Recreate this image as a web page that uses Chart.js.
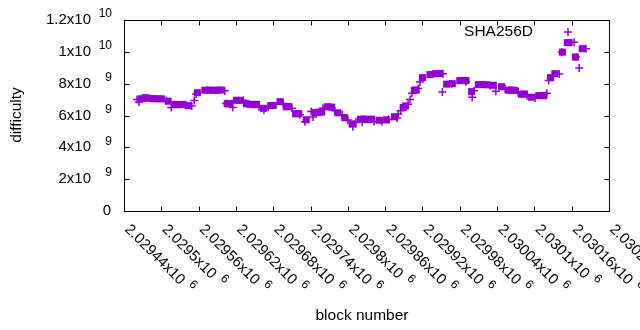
<!DOCTYPE html>
<html>
<head>
<meta charset="utf-8">
<script src="https://cdn.jsdelivr.net/npm/chart.js@4.4.0/dist/chart.umd.min.js"></script>
<style>
html,body{margin:0;padding:0;background:#fff;}
#wrap{width:640px;height:330px;}
</style>
</head>
<body>
<div id="wrap"><canvas id="myChart" width="640" height="330"></canvas></div>
<script>
// averaged difficulty (squares), block numbers and difficulty in units of 1e9
const avgBlocks = [2029468, 2029474, 2029480, 2029487, 2029493, 2029500, 2029511, 2029522, 2029528, 2029535,
  2029543, 2029558, 2029570, 2029577, 2029583, 2029590, 2029595, 2029606, 2029610, 2029621,
  2029626, 2029637, 2029643, 2029649, 2029653, 2029664, 2029676, 2029680, 2029691, 2029701,
  2029705, 2029716, 2029721, 2029733, 2029748, 2029752, 2029758, 2029767, 2029774, 2029784,
  2029795, 2029807, 2029820, 2029826, 2029832, 2029838, 2029850, 2029862, 2029875, 2029889,
  2029893, 2029907, 2029910, 2029920, 2029932, 2029941, 2029947, 2029959, 2029968, 2029980,
  2029985, 2029990, 2029999, 2030010, 2030017, 2030023, 2030034, 2030047, 2030058, 2030063,
  2030068, 2030079, 2030084, 2030095, 2030107, 2030111, 2030115, 2030126, 2030133, 2030145,
  2030153, 2030156, 2030166, 2030177];
const avgDiff = [7.05, 7.12, 7.08, 7.06, 7.05, 7.05, 6.9, 6.7, 6.68, 6.7,
  6.62, 7.43, 7.59, 7.6, 7.58, 7.59, 7.6, 6.74, 6.76, 6.96,
  6.95, 6.74, 6.7, 6.68, 6.7, 6.45, 6.62, 6.63, 6.87, 6.55,
  6.56, 6.11, 6.12, 5.73, 6.18, 6.2, 6.22, 6.55, 6.53, 6.17,
  5.86, 5.48, 5.76, 5.78, 5.74, 5.77, 5.70, 5.73, 5.92, 6.5,
  6.6, 7.59, 7.6, 8.38, 8.57, 8.63, 8.64, 7.97, 8.0, 8.19,
  8.2, 8.19, 7.5, 7.94, 7.95, 7.93, 7.9, 7.81, 7.59, 7.6,
  7.58, 7.34, 7.35, 7.15, 7.25, 7.26, 7.24, 8.38, 8.63, 9.98,
  10.58, 10.58, 9.67, 10.2];

// single block difficulty (plus marks)
const blockNums = [2029461, 2029464, 2029508, 2029516, 2029549, 2029553, 2029556, 2029602, 2029604, 2029615,
  2029632, 2029657, 2029665, 2029672, 2029696, 2029710, 2029723, 2029731, 2029741, 2029744,
  2029760, 2029779, 2029791, 2029800, 2029808, 2029813, 2029823, 2029842, 2029855, 2029865,
  2029879, 2029881, 2029885, 2029897, 2029900, 2029903, 2029913, 2029916, 2029953, 2029952,
  2029967, 2029990, 2030000, 2030003, 2030029, 2030038, 2030053, 2030074, 2030088, 2030101,
  2030120, 2030123, 2030140, 2030144, 2030164, 2030167, 2030172, 2030183];
const blockDiff = [7.0, 6.85, 6.95, 6.5, 6.6, 6.95, 7.35, 7.55, 6.75, 6.5,
  6.96, 6.55, 6.35, 6.55, 6.75, 6.45, 6.05, 5.6, 6.25, 5.9,
  6.45, 6.3, 6.05, 5.72, 5.3, 5.58, 5.58, 5.62, 5.6, 5.75,
  5.85, 6.1, 6.3, 6.7, 7.0, 7.4, 7.7, 8.1, 8.62, 7.47,
  8.0, 8.12, 7.15, 7.55, 7.88, 7.53, 7.7, 7.5, 7.25, 7.1,
  7.4, 8.2, 8.6, 9.98, 10.6, 9.67, 8.98, 10.2];

const xTickMain = ['2.02944x10', '2.0295x10', '2.02956x10', '2.02962x10', '2.02968x10', '2.02974x10', '2.0298x10',
  '2.02986x10', '2.02992x10', '2.02998x10', '2.03004x10', '2.0301x10', '2.03016x10', '2.03022x10'];
const xTickSup = '6';
const yTickMain = ['0', '2x10', '4x10', '6x10', '8x10', '1x10', '1.2x10'];
const yTickSup = ['', '9', '9', '9', '9', '10', '10'];

const PURPLE = '#9400d3';
const FONT = '"Liberation Sans", Arial, sans-serif';

// gnuplot style frame: border, inward ticks on all sides, labels with superscripts
const gnuplotFrame = {
    id: 'gnuplotFrame',
    afterDraw(chart) {
        const ctx = chart.ctx;
        const a = chart.chartArea;
        const xs = chart.scales.x, ys = chart.scales.y;
        const L = Math.round(a.left) + 0.5, R = Math.round(a.right) + 0.5;
        const T = Math.round(a.top) + 0.5, B = Math.round(a.bottom) + 0.5;
        ctx.save();
        ctx.strokeStyle = '#000';
        ctx.lineWidth = 1;
        ctx.strokeRect(L, T, R - L, B - T);
        ctx.beginPath();
        xs.ticks.forEach(t => {
            const px = Math.round(xs.getPixelForValue(t.value)) + 0.5;
            ctx.moveTo(px, B); ctx.lineTo(px, B - 5);
            ctx.moveTo(px, T); ctx.lineTo(px, T + 5);
        });
        ys.ticks.forEach(t => {
            const py = Math.round(ys.getPixelForValue(t.value)) + 0.5;
            ctx.moveTo(L, py); ctx.lineTo(L + 5, py);
            ctx.moveTo(R, py); ctx.lineTo(R - 5, py);
        });
        ctx.stroke();

        ctx.fillStyle = '#000';
        // y labels
        ys.ticks.forEach((t, i) => {
            const py = ys.getPixelForValue(t.value);
            ctx.textBaseline = 'middle';
            ctx.textAlign = 'right';
            ctx.font = '15px ' + FONT;
            if (!yTickSup[i]) {
                ctx.fillText(yTickMain[i], 111, py);
                return;
            }
            ctx.fillText(yTickMain[i], 91, py);
            ctx.font = '12px ' + FONT;
            ctx.fillText(yTickSup[i], 112, py - 6);
        });
        // x labels, rotated 45 deg
        xs.ticks.forEach((t, i) => {
            const px = xs.getPixelForValue(t.value);
            ctx.save();
            ctx.translate(px + 3, 227);
            ctx.rotate(Math.PI / 4);
            ctx.textBaseline = 'middle';
            ctx.textAlign = 'left';
            ctx.font = '15px ' + FONT;
            ctx.fillText(xTickMain[i], 0, 0);
            const w = ctx.measureText(xTickMain[i]).width;
            ctx.font = '12px ' + FONT;
            ctx.fillText(xTickSup, w + 6, -6);
            ctx.restore();
        });

        // axis titles
        ctx.font = '15.5px ' + FONT;
        ctx.textAlign = 'center';
        ctx.textBaseline = 'middle';
        ctx.fillText('block number', 362, 316);
        ctx.save();
        ctx.translate(17, 115);
        ctx.rotate(-Math.PI / 2);
        ctx.fillText('difficulty', 0, 0);
        ctx.restore();

        // key
        ctx.textAlign = 'right';
        ctx.fillText('SHA256D', 533, 32);
        ctx.strokeStyle = PURPLE;
        ctx.lineWidth = 1.5;
        ctx.beginPath();
        ctx.moveTo(564, 32); ctx.lineTo(572, 32);
        ctx.moveTo(568, 28); ctx.lineTo(568, 36);
        ctx.stroke();
        ctx.restore();
    }
};

new Chart(document.getElementById('myChart'), {
    type: 'scatter',
    data: {
        datasets: [
            {
                label: 'SHA256D',
                data: blockNums.map((b, i) => ({x: b, y: blockDiff[i] * 1e9})),
                pointStyle: 'cross',
                pointRadius: 4,
                borderColor: PURPLE,
                pointBorderWidth: 1.5,
                showLine: false
            },
            {
                label: 'average',
                data: avgBlocks.map((b, i) => ({x: b, y: avgDiff[i] * 1e9})),
                pointStyle: 'rect',
                pointRadius: 5,
                backgroundColor: PURPLE,
                borderColor: PURPLE,
                pointBorderWidth: 0,
                showLine: false
            }
        ]
    },
    options: {
        responsive: false,
        animation: false,
        devicePixelRatio: 1,
        layout: {padding: {top: 20, right: 31, left: 0, bottom: 0}},
        plugins: {legend: {display: false}, tooltip: {enabled: false}},
        scales: {
            x: {
                type: 'linear',
                min: 2029440,
                max: 2030220,
                ticks: {stepSize: 60, display: false},
                grid: {display: false},
                border: {display: false},
                afterFit: s => { s.height = 119; }
            },
            y: {
                min: 0,
                max: 1.2e10,
                ticks: {stepSize: 2e9, display: false},
                grid: {display: false},
                border: {display: false},
                afterFit: s => { s.width = 124; }
            }
        }
    },
    plugins: [gnuplotFrame]
});
</script>
</body>
</html>
